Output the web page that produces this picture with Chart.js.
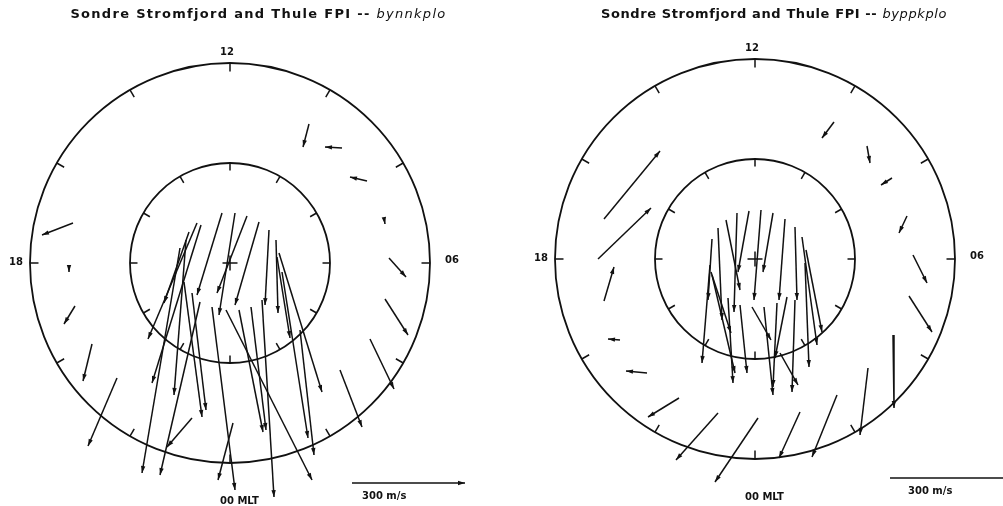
<!DOCTYPE html>
<html>
<head>
<meta charset="utf-8">
<script src="https://cdn.jsdelivr.net/npm/chart.js@4.4.1/dist/chart.umd.min.js"></script>
<style>
  body { margin: 0; background: #fff; }
  #wrap { position: relative; width: 1003px; height: 506px; }
  canvas { position: absolute; top: 0; }
</style>
</head>
<body>
<div id="wrap">
  <canvas id="leftDial" width="501" height="506" style="left:0"></canvas>
  <canvas id="rightDial" width="502" height="506" style="left:501px"></canvas>
</div>
<script>
// dial geometry, in degrees of colatitude
const outerColat = 40;
const innerColat = 20;
const tickHours = [0, 2, 4, 6, 8, 10, 12, 14, 16, 18, 20, 22];
const hourLabels = ["12", "18", "06", "00 MLT"];
const titleText = "Sondre Stromfjord and Thule FPI -- ";
const runNames = ["bynnkplo", "byppkplo"];
const barSpeed = 300;             // m/s
const degPerMs = 22.6 / 300;      // vector scale
const barLabel = "300 m/s";

// arrows: tail -> head, dial coordinates (deg), x toward 06, y toward 12
const leftTails = [
  [15.8, 27.8], [22.4, 23.0], [27.4, 16.4], [30.8, 9.0], [31.8, 1.0], [31.0, -7.2],
  [28.0, -15.2], [22.0, -21.4], [-31.4, 8.0], [-32.2, -0.4], [-31.0, -8.6], [-27.6, -16.2],
  [-22.6, -23.0],
  [-6.6, 8.0], [-8.2, 6.2], [-5.8, 7.6], [-1.6, 10.0], [1.0, 10.0], [3.4, 9.4],
  [5.8, 8.2], [7.8, 6.6], [9.2, 4.6], [9.8, 2.0], [10.4, -1.8], [14.0, -13.4],
  [-0.8, -9.4], [6.4, -7.4], [1.8, -9.4], [4.2, -8.8], [-3.6, -8.8], [0.6, -32.0],
  [-9.2, -3.8], [-7.6, -6.0], [-6.0, -7.8], [-8.8, 4.6], [-7.6, -31.0], [-10.0, 3.0],
  [9.4, 1.2]
];
const leftHeads = [
  [14.6, 23.2], [19.0, 23.2], [24.0, 17.2], [31.0, 7.8], [35.2, -2.8], [35.6, -14.4],
  [32.8, -25.2], [26.4, -32.8], [-37.6, 5.6], [-32.2, -1.8], [-33.2, -12.2], [-29.4, -23.6],
  [-28.4, -36.6],
  [-16.4, -15.2], [-13.2, -8.0], [-15.6, -24.0], [-6.6, -6.4], [-2.2, -10.4], [-2.6, -6.0],
  [1.0, -8.4], [7.0, -8.4], [9.6, -10.0], [18.4, -25.8], [15.6, -35.0], [16.8, -38.4],
  [16.4, -43.4], [8.8, -46.8], [6.6, -33.8], [7.2, -33.4], [1.0, -45.4], [-2.4, -43.4],
  [-5.6, -30.8], [-4.8, -29.4], [-14.0, -42.4], [-11.2, -26.4], [-12.6, -36.8], [-17.6, -42.0],
  [12.0, -15.0]
];
const rightTails = [
  [15.8, 27.4], [22.4, 22.6], [27.4, 16.2], [30.4, 8.6], [31.6, 0.8], [30.8, -7.4],
  [27.6, -15.2], [22.6, -21.8], [16.4, -27.2], [9.0, -30.6], [0.6, -31.8], [-7.4, -30.8],
  [-15.2, -27.8], [-30.2, 8.0], [-31.4, 0.0], [-30.2, -8.4], [-27.0, -16.2], [-21.6, -22.8],
  [-5.8, 7.8], [-3.6, 9.2], [-1.2, 9.6], [1.2, 9.8], [3.6, 9.2], [6.0, 8.0],
  [8.0, 6.4], [9.4, 4.4], [10.2, 1.8], [10.0, -0.8], [-8.6, 4.0], [-7.4, 6.2],
  [-9.0, -1.2], [-8.8, -2.6], [-5.4, -7.8], [-3.0, -9.2], [-0.6, -9.6], [1.8, -9.6],
  [4.4, -8.8], [6.4, -7.6], [8.0, -8.2], [5.0, -18.8], [-8.6, -3.2]
];
const rightHeads = [
  [13.4, 24.2], [23.0, 19.2], [25.2, 14.8], [28.8, 5.2], [34.4, -4.8], [35.4, -14.6],
  [27.8, -29.8], [21.0, -35.2], [11.4, -39.6], [4.8, -39.8], [-8.0, -44.6], [-15.8, -40.2],
  [-21.4, -31.6], [-19.0, 21.6], [-20.8, 10.2], [-28.2, -1.6], [-29.4, -16.0], [-25.8, -22.4],
  [-3.0, -6.2], [-4.2, -10.6], [-3.4, -2.6], [-0.2, -8.2], [1.6, -2.6], [4.8, -8.2],
  [8.4, -8.2], [12.4, -17.2], [13.4, -14.6], [10.8, -21.6], [-9.4, -8.2], [-6.6, -12.2],
  [-10.6, -20.8], [-4.8, -14.8], [-4.4, -24.8], [-1.6, -22.8], [3.2, -16.2], [3.6, -27.2],
  [3.6, -25.6], [4.0, -19.8], [7.4, -26.6], [8.6, -25.2], [-4.0, -22.8]
];
// scale bar tail (deg)
const barStarts = [[24.4, -44.0], [27.0, -43.8]];

const INK = "#111";
const FONT = "'DejaVu Sans', sans-serif";
const layoutByRun = [
  { titleX: 5.7, titleY: 49.6, spacing: "1.3px", labelDx: 2.0 },
  { titleX: 3.8, titleY: 48.9, spacing: "0.6px", labelDx: 3.6 }
];

function arrowSets(tails, heads) {
  return tails.map((t, i) => ({
    data: [{ x: t[0], y: t[1] }, { x: heads[i][0], y: heads[i][1] }],
    showLine: true,
    borderColor: INK,
    borderWidth: 1.5,
    pointRadius: 0,
    pointHoverRadius: 0
  }));
}

const dialPlugin = {
  id: "dial",
  beforeDatasetsDraw(chart, args, opts) {
    const { ctx } = chart;
    const sx = chart.scales.x, sy = chart.scales.y;
    const P = (x, y) => [sx.getPixelForValue(x), sy.getPixelForValue(y)];
    const [cx, cy] = P(0, 0);
    const rad = r => Math.abs(P(r, 0)[0] - cx);
    const lay = layoutByRun[opts.run];
    ctx.save();
    ctx.strokeStyle = INK;
    ctx.fillStyle = INK;
    ctx.lineWidth = 1.8;
    [outerColat, innerColat].forEach(r => {
      ctx.beginPath();
      ctx.arc(cx, cy, rad(r), 0, Math.PI * 2);
      ctx.stroke();
    });
    ctx.lineWidth = 1.5;
    [[outerColat, 1.7], [innerColat, 1.5]].forEach(([r, len]) => {
      tickHours.forEach(h => {
        const a = (12 - h) * Math.PI / 12;
        const p1 = P(r * Math.sin(a), r * Math.cos(a));
        const p2 = P((r - len) * Math.sin(a), (r - len) * Math.cos(a));
        ctx.beginPath(); ctx.moveTo(p1[0], p1[1]); ctx.lineTo(p2[0], p2[1]); ctx.stroke();
      });
    });
    // centre cross
    const c = 1.5;
    let a1 = P(-c, 0), a2 = P(c, 0);
    ctx.beginPath(); ctx.moveTo(a1[0], a1[1]); ctx.lineTo(a2[0], a2[1]);
    a1 = P(0, -c); a2 = P(0, c);
    ctx.moveTo(a1[0], a1[1]); ctx.lineTo(a2[0], a2[1]); ctx.stroke();

    // hour labels
    ctx.font = "bold 10px " + FONT;
    ctx.textBaseline = "middle";
    ctx.textAlign = "center";
    let p = P(-0.6, 42.1); ctx.fillText(hourLabels[0], p[0], p[1]);
    p = P(-42.8, 0.2); ctx.fillText(hourLabels[1], p[0], p[1]);
    p = P(44.4, 0.5); ctx.fillText(hourLabels[2], p[0], p[1]);
    ctx.textAlign = "left";
    p = P(-2.0, -47.7); ctx.fillText(hourLabels[3], p[0], p[1]);

    // title
    const t1 = titleText, t2 = runNames[opts.run];
    const f1 = "bold 13px " + FONT, f2 = "italic 13px " + FONT;
    ctx.letterSpacing = lay.spacing;
    ctx.font = f1; const w1 = ctx.measureText(t1).width;
    ctx.font = f2; const w2 = ctx.measureText(t2).width;
    p = P(lay.titleX, lay.titleY);
    const x0 = p[0] - (w1 + w2) / 2;
    ctx.font = f1; ctx.textAlign = "left"; ctx.fillText(t1, x0, p[1]);
    ctx.font = f2; ctx.fillText(t2, x0 + w1, p[1]);
    ctx.letterSpacing = "0px";

    // scale bar
    const b = barStarts[opts.run];
    const b1 = P(b[0], b[1]), b2 = P(b[0] + barSpeed * degPerMs, b[1]);
    ctx.lineWidth = 1.5;
    ctx.beginPath(); ctx.moveTo(b1[0], b1[1]); ctx.lineTo(b2[0], b2[1]); ctx.stroke();
    if (opts.run === 0) head(ctx, b1[0], b1[1], b2[0], b2[1]);
    ctx.font = "bold 10px " + FONT;
    ctx.textAlign = "left";
    p = P(b[0] + lay.labelDx, b[1] - 2.6); ctx.fillText(barLabel, p[0], p[1]);
    ctx.restore();
  },
  afterDatasetsDraw(chart) {
    const { ctx } = chart;
    ctx.save();
    ctx.fillStyle = INK;
    chart.data.datasets.forEach((ds, i) => {
      const pts = chart.getDatasetMeta(i).data;
      head(ctx, pts[0].x, pts[0].y, pts[1].x, pts[1].y);
    });
    ctx.restore();
  }
};

function head(ctx, x0, y0, x1, y1) {
  const a = Math.atan2(y1 - y0, x1 - x0);
  const L = 7, W = 2.2;
  ctx.fillStyle = INK;
  ctx.beginPath();
  ctx.moveTo(x1, y1);
  ctx.lineTo(x1 - L * Math.cos(a) + W * Math.sin(a), y1 - L * Math.sin(a) - W * Math.cos(a));
  ctx.lineTo(x1 - L * Math.cos(a) - W * Math.sin(a), y1 - L * Math.sin(a) + W * Math.cos(a));
  ctx.closePath();
  ctx.fill();
}

function makeDial(id, tails, heads, run, range) {
  new Chart(document.getElementById(id), {
    type: "scatter",
    data: { datasets: arrowSets(tails, heads) },
    options: {
      responsive: false,
      animation: false,
      events: [],
      layout: { padding: 0 },
      plugins: { legend: { display: false }, tooltip: { enabled: false }, dial: { run } },
      scales: {
        x: { type: "linear", display: false, min: range[0], max: range[1] },
        y: { type: "linear", display: false, min: range[2], max: range[3] }
      }
    },
    plugins: [dialPlugin]
  });
}

makeDial("leftDial", leftTails, leftHeads, 0, [-46, 54.2, -48.6, 52.6]);
makeDial("rightDial", rightTails, rightHeads, 1, [-50.8, 49.6, -49.4, 51.8]);
</script>
</body>
</html>
